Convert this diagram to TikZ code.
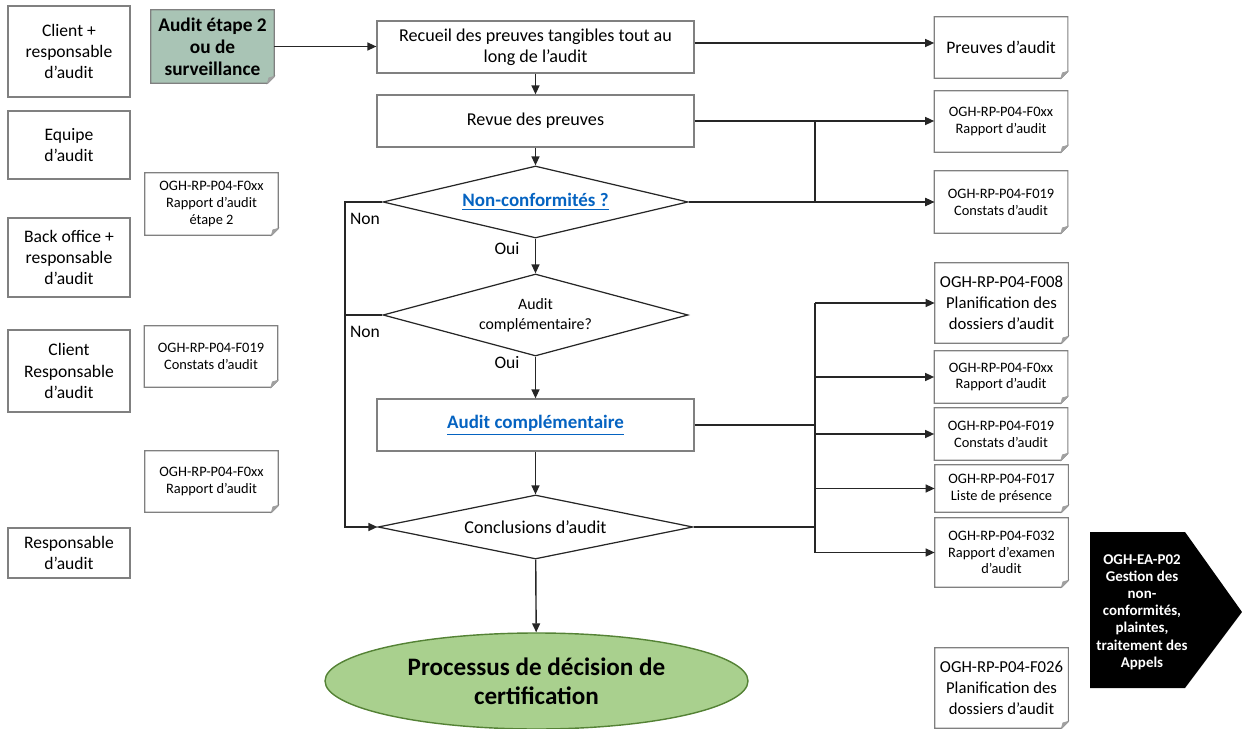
\documentclass[tikz,border=0pt]{standalone}
\usepackage{fontspec}
\setmainfont{Carlito}
\usepackage{tikz}
\usepackage{xcolor}
\usetikzlibrary{shapes.geometric, arrows.meta, positioning, calc}

\definecolor{boxgray}{RGB}{128,128,128}
\definecolor{connblack}{RGB}{38,38,38}
\definecolor{stepgreen}{RGB}{169,196,181}
\definecolor{decgreen}{RGB}{169,208,142}
\definecolor{decedge}{RGB}{84,130,53}
\definecolor{linkblue}{RGB}{5,99,193}
\definecolor{foldgray}{RGB}{160,160,160}

\newcommand{\lien}[1]{\textcolor{linkblue}{\fontsize{10.8}{13}\selectfont\underline{\textbf{#1}}}}

\begin{document}
\begin{tikzpicture}[x=0.2mm, y=-0.2mm,
  actor/.style={draw=boxgray, line width=0.7pt, minimum width=24.4mm, inner sep=2pt, align=center, font=\fontsize{10}{12}\selectfont},
  stepbox/.style={draw=boxgray, line width=0.7pt, minimum width=63.4mm, minimum height=10.4mm, inner sep=2pt, align=center, font=\fontsize{10.3}{12}\selectfont},
  decision/.style={diamond, draw=connblack, line width=0.7pt, aspect=4.2, inner sep=0pt, align=center, font=\fontsize{9}{11.5}\selectfont},
  doc/.style={minimum width=26.6mm, inner sep=2pt, align=center, font=\fontsize{8.2}{9.6}\selectfont},
  bigdoc/.style={doc, font=\fontsize{9.5}{12}\selectfont},
  docline/.style={draw=boxgray, line width=0.7pt},
  lbl/.style={font=\fontsize{10}{12}\selectfont},
  conn/.style={draw=connblack, line width=0.8pt},
  arr/.style={conn, -{Triangle[length=1.8mm, width=1.6mm]}}
]
\useasboundingbox (0,0) rectangle (1242,729);

% Actors
\node[actor, minimum height=18.2mm] (client) at (69,51.5) {Client +\\responsable\\d’audit};
\node[actor, minimum height=13.6mm] (equipe) at (69,145) {Equipe\\d’audit};
\node[actor, minimum height=15.8mm] (backoffice) at (69,257.5) {Back office +\\responsable\\d’audit};
\node[actor, minimum height=16.4mm] (clientresp) at (69,371) {Client\\Responsable\\d’audit};
\node[actor, minimum height=10mm] (resp) at (69,553) {Responsable\\d’audit};

% Input documents
\node[doc, fill=stepgreen, minimum width=24.6mm, minimum height=14.6mm, font=\fontsize{11}{12.5}\selectfont\bfseries] (etape) at (212.5,46.5) {Audit étape 2\\ou de\\surveillance};
\node[doc, minimum height=12.4mm] (rapetape) at (211.5,204) {OGH-RP-P04-F0xx\\Rapport d’audit\\étape 2};
\node[doc, minimum height=12.2mm] (constatin) at (211,356.5) {OGH-RP-P04-F019\\Constats d’audit};
\node[doc, minimum height=12.2mm] (rapin) at (211.5,481.5) {OGH-RP-P04-F0xx\\Rapport d’audit};

% Process
\node[stepbox] (recueil) at (535.5,47) {Recueil des preuves tangibles tout au\\long de l’audit};
\node[stepbox] (revue) at (535.5,121) {Revue des preuves};
\node[decision, minimum width=61mm, minimum height=14.4mm] (nc) at (535.5,202) {\lien{Non-conformités ?}};
\node[decision, minimum width=61mm, minimum height=16.4mm] (compq) at (535.5,315) {Audit\\complémentaire?};
\node[stepbox] (comp) at (535.5,425) {\lien{Audit complémentaire}};
\node[decision, minimum width=63mm, minimum height=12.8mm, font=\fontsize{10.3}{12}\selectfont] (concl) at (535.5,527) {Conclusions d’audit};
\node[ellipse, draw=decedge, fill=decgreen, line width=0.8pt, minimum width=84.6mm, minimum height=19.2mm, align=center, font=\fontsize{14.3}{16.5}\selectfont\bfseries] (certif) at (536.5,681) {Processus de décision de\\certification};

\node[lbl] (non1) at (365,219) {Non};
\node[lbl] (non2) at (365,332) {Non};
\node[lbl] (oui1) at (507,249) {Oui};
\node[lbl] (oui2) at (507,363) {Oui};

% Output documents
\node[bigdoc, minimum height=12.2mm, font=\fontsize{10}{12}\selectfont] (preuves) at (1001,47.5) {Preuves d’audit};
\node[doc, minimum height=12.2mm] (rapout) at (1001,121.5) {OGH-RP-P04-F0xx\\Rapport d’audit};
\node[doc, minimum height=12.4mm] (constatout) at (1001,202) {OGH-RP-P04-F019\\Constats d’audit};
\node[bigdoc, minimum height=16mm] (planif) at (1001.5,303) {OGH-RP-P04-F008\\Planification des\\dossiers d’audit};
\node[doc, minimum height=10.4mm] (rapcomp) at (1001,377) {OGH-RP-P04-F0xx\\Rapport d’audit};
\node[doc, minimum height=10.4mm] (constatcomp) at (1001,434) {OGH-RP-P04-F019\\Constats d’audit};
\node[doc, minimum height=9.4mm] (presence) at (1001.5,488.5) {OGH-RP-P04-F017\\Liste de présence};
\node[doc, minimum height=13.8mm] (examen) at (1001.5,552.5) {OGH-RP-P04-F032\\Rapport d’examen\\d’audit};
\node[bigdoc, minimum height=16mm] (planifbis) at (1001.5,688) {OGH-RP-P04-F026\\Planification des\\dossiers d’audit};

% Linked process
\fill[black] (1090,532) -- (1185,532) -- (1242,612) -- (1185,688) -- (1090,688) -- cycle;
\node[text=white, align=center, font=\fontsize{8.5}{9.8}\selectfont\bfseries] (gestion) at (1142,612) {OGH-EA-P02\\Gestion des\\non-\\conformités,\\plaintes,\\traitement des\\Appels};

% Document outlines with folded corner
\foreach \d in {etape,rapetape,constatin,rapin,preuves,rapout,constatout,planif,rapcomp,constatcomp,presence,examen,planifbis} {
  \fill[white] (\d.south east) -- ([xshift=-1.4mm]\d.south east) -- ([yshift=1.4mm]\d.south east) -- cycle;
  \draw[docline] (\d.north west) -- (\d.north east) -- ([yshift=1.4mm]\d.south east) -- ([xshift=-1.4mm]\d.south east) -- (\d.south west) -- cycle;
  \filldraw[foldgray, line width=0.4pt] ([yshift=1.4mm]\d.south east) -- ([xshift=-1.4mm]\d.south east) -- ([shift={(-1.1mm,1.1mm)}]\d.south east) -- cycle;
}

% Junctions
\coordinate (loopx) at (345,0);
\coordinate (jA) at (815,0);

% Main flow
\draw[arr] (etape.east) -- (etape.east -| recueil.west);
\draw[arr] ([yshift=0.8mm]recueil.east) -- ([yshift=0.8mm]recueil.east -| preuves.west);
\draw[arr] (recueil) -- (revue);
\draw[arr] (revue) -- (nc);
\draw[arr] (nc) -- (compq);
\draw[arr] (compq) -- (comp);
\draw[arr] (comp) -- (concl);
\draw[arr] (concl) -- (certif);
\draw[arr] (nc.west) -- (nc.west -| loopx) |- (concl.west);
\draw[conn] (compq.west) -- (compq.west -| loopx);

% Outputs
\draw[arr] (revue.east) -- (revue.east -| rapout.west);
\draw[arr] (revue.east -| jA) |- (constatout.west);
\draw[arr] (nc.east) -- (constatout.west);
\draw[conn, line width=1.4pt] (comp.east) -- (comp.east -| jA);
\draw[conn] (concl.east) -- (concl.east -| jA);
\draw[conn] (jA |- planif.west) -- (jA |- examen.west);
\foreach \d in {planif,rapcomp,constatcomp,presence,examen}
  \draw[arr] (jA |- \d.west) -- (\d.west);
\end{tikzpicture}
\end{document}
